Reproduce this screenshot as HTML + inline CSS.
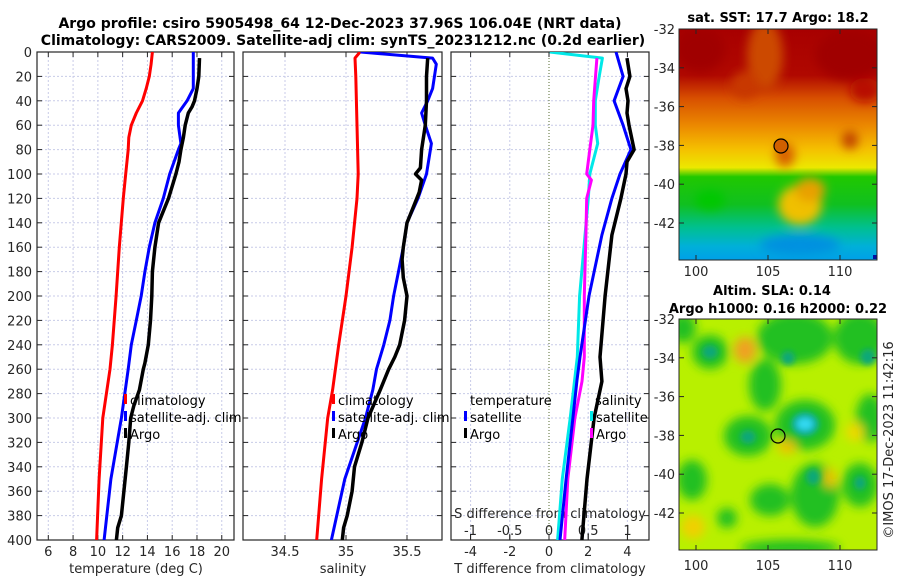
<!DOCTYPE html>
<html><head><meta charset="utf-8">
<style>
html,body{margin:0;padding:0;background:#fff;}
svg{display:block;font-family:"DejaVu Sans","Liberation Sans",sans-serif;}
.tk{font-size:13px;fill:#262626;}
.tt{font-size:13px;font-weight:bold;fill:#000;}
.t1{font-size:14px;font-weight:bold;fill:#000;}
.lg{font-size:13px;fill:#000;}
</style></head>
<body>
<svg id="chart" width="900" height="580" viewBox="0 0 900 580">
<defs>
<clipPath id="cp1"><rect x="37" y="52" width="197" height="488"/></clipPath>
<clipPath id="cp2"><rect x="243" y="52" width="199" height="488"/></clipPath>
<clipPath id="cp3"><rect x="451" y="52" width="198" height="488"/></clipPath>
<clipPath id="cpm1"><rect x="679" y="29" width="198" height="231"/></clipPath>
<clipPath id="cpm2"><rect x="679" y="319" width="198" height="231"/></clipPath>
<filter id="bl" x="-50%" y="-50%" width="200%" height="200%"><feGaussianBlur stdDeviation="5"/></filter>
<filter id="bl2" x="-50%" y="-50%" width="200%" height="200%"><feGaussianBlur stdDeviation="3"/></filter>
<linearGradient id="sstg" x1="0" y1="0" x2="0" y2="1">
<stop offset="0" stop-color="#a80000"/><stop offset="0.2" stop-color="#b00800"/>
<stop offset="0.3" stop-color="#d85000"/><stop offset="0.42" stop-color="#ec8a00"/>
<stop offset="0.52" stop-color="#f5c000"/><stop offset="0.6" stop-color="#ece800"/>
<stop offset="0.64" stop-color="#20c800"/><stop offset="0.76" stop-color="#10c020"/>
<stop offset="0.86" stop-color="#00c090"/><stop offset="0.94" stop-color="#00b0d8"/>
<stop offset="1" stop-color="#00a0e8"/>
</linearGradient>
</defs>

<g>
<text class="t1" x="340" y="28" text-anchor="middle">Argo profile: csiro 5905498_64 12-Dec-2023 37.96S 106.04E (NRT data)</text>
<text class="t1" x="343" y="45" text-anchor="middle">Climatology: CARS2009. Satellite-adj clim: synTS_20231212.nc (0.2d earlier)</text>
</g>

<g id="panels"></g>

<!-- SST map -->
<g>
<g clip-path="url(#cpm1)">
<rect x="679" y="29" width="198" height="231" fill="url(#sstg)"/>
<g filter="url(#bl)">
<ellipse cx="765" cy="55" rx="18" ry="35" fill="#cc4800"/>
<ellipse cx="745" cy="85" rx="14" ry="14" fill="#c83800"/>
<ellipse cx="700" cy="50" rx="25" ry="22" fill="#a00000"/>
<ellipse cx="850" cy="55" rx="35" ry="25" fill="#a00000"/>
<ellipse cx="865" cy="90" rx="15" ry="12" fill="#b81000"/>
<ellipse cx="800" cy="205" rx="22" ry="20" fill="#f0c000"/>
<ellipse cx="810" cy="190" rx="15" ry="12" fill="#e8a000"/>
<ellipse cx="850" cy="140" rx="8" ry="9" fill="#c04000"/>
<ellipse cx="785" cy="155" rx="10" ry="12" fill="#d86000"/>
<ellipse cx="710" cy="200" rx="15" ry="10" fill="#00c800"/>
<ellipse cx="800" cy="245" rx="40" ry="10" fill="#0090e0"/>
</g>
<rect x="873" y="255" width="4" height="4" fill="#0010a0"/>
</g>
<rect x="679" y="29" width="198" height="231" fill="none" stroke="#262626" stroke-width="1"/>
<circle cx="781" cy="146" r="7" fill="#d06000" stroke="#000" stroke-width="1.2"/>
<text class="tt" x="778" y="22" text-anchor="middle">sat. SST: 17.7 Argo: 18.2</text>
</g>

<!-- SLA map -->
<g>
<g clip-path="url(#cpm2)">
<rect x="679" y="319" width="198" height="231" fill="#b8f000"/>
<g filter="url(#bl)">
<ellipse cx="683" cy="328" rx="13" ry="15" fill="#20c020"/>
<ellipse cx="710" cy="352" rx="18" ry="17" fill="#20c020"/>
<ellipse cx="795" cy="338" rx="38" ry="26" fill="#20c020"/>
<ellipse cx="765" cy="385" rx="16" ry="26" fill="#20c020"/>
<ellipse cx="860" cy="338" rx="26" ry="26" fill="#20c020"/>
<ellipse cx="805" cy="425" rx="30" ry="25" fill="#20c020"/>
<ellipse cx="748" cy="436" rx="24" ry="20" fill="#20c020"/>
<ellipse cx="870" cy="418" rx="14" ry="24" fill="#20c020"/>
<ellipse cx="692" cy="480" rx="15" ry="20" fill="#20c020"/>
<ellipse cx="770" cy="500" rx="20" ry="16" fill="#20c020"/>
<ellipse cx="815" cy="495" rx="24" ry="32" fill="#20c020"/>
<ellipse cx="860" cy="485" rx="18" ry="22" fill="#20c020"/>
<ellipse cx="727" cy="518" rx="10" ry="10" fill="#20c020"/>
<ellipse cx="790" cy="548" rx="50" ry="8" fill="#20c020"/>
<ellipse cx="745" cy="350" rx="11" ry="13" fill="#f0a020"/>
<ellipse cx="693" cy="527" rx="12" ry="12" fill="#f0d000"/>
<ellipse cx="830" cy="478" rx="6" ry="10" fill="#f0c000"/>
<ellipse cx="787" cy="447" rx="9" ry="7" fill="#f0c000"/>
<ellipse cx="855" cy="432" rx="9" ry="9" fill="#f0d800"/>
</g>
<g filter="url(#bl2)">
<ellipse cx="710" cy="352" rx="8" ry="7" fill="#10a878"/>
<ellipse cx="788" cy="358" rx="7" ry="7" fill="#10a878"/>
<ellipse cx="868" cy="357" rx="8" ry="8" fill="#10a878"/>
<ellipse cx="748" cy="437" rx="8" ry="7" fill="#10a878"/>
<ellipse cx="813" cy="477" rx="7" ry="8" fill="#10a878"/>
<ellipse cx="860" cy="483" rx="6" ry="7" fill="#10a878"/>
<ellipse cx="805" cy="424" rx="14" ry="12" fill="#10b0a0"/>
<ellipse cx="805" cy="424" rx="8" ry="6" fill="#30d8f0"/>
</g>
</g>
<rect x="679" y="319" width="198" height="231" fill="none" stroke="#262626" stroke-width="1"/>
<circle cx="778" cy="436" r="7" fill="none" stroke="#000" stroke-width="1.2"/>
<text class="tt" x="772" y="295" text-anchor="middle">Altim. SLA: 0.14</text>
<text class="tt" x="778" y="313" text-anchor="middle">Argo h1000: 0.16 h2000: 0.22</text>
</g>

<g id="mapaxes"></g>

<text class="tk" x="0" y="0" transform="translate(893,440) rotate(-90)" text-anchor="middle">©IMOS 17-Dec-2023 11:42:16</text>
</svg>

<script>
// ---- data ----
const depthTicks = [0,20,40,60,80,100,120,140,160,180,200,220,240,260,280,300,320,340,360,380,400];
const tempTicks = [6,8,10,12,14,16,18,20];
const salTicks = [34.5,35,35.5];
const tDiffTicks = [-4,-2,0,2,4];
const sDiffTicks = [-1,-0.5,0,0.5,1];

const climTDepth = [0,10,20,30,40,50,60,70,80,100,120,160,200,240,260,300,350,400];
const climTValue = [14.4,14.3,14.15,13.9,13.6,13.1,12.7,12.5,12.45,12.25,12.05,11.73,11.47,11.17,10.98,10.4,10.1,9.9];
const satTDepth = [0,30,40,50,60,75,80,100,120,140,160,180,200,220,240,260,300,350,400];
const satTValue = [17.7,17.7,17.2,16.5,16.5,16.7,16.5,15.8,15.28,14.6,14.15,13.8,13.5,13.1,12.7,12.45,11.9,11.05,10.5];
const argoTDepth = [5,20,30,40,45,50,60,70,80,90,100,110,120,140,160,180,200,220,240,255,260,277,290,300,320,340,360,380,390,400];
const argoTValue = [18.2,18.15,18.0,17.8,17.6,17.3,17.05,16.9,16.7,16.55,16.3,16.0,15.7,14.9,14.6,14.4,14.35,14.25,14.07,13.8,13.67,13.35,12.9,12.65,12.5,12.3,12.1,11.9,11.6,11.5];

const climSDepth = [0,5,20,60,100,120,160,200,240,277,300,350,400];
const climSValue = [35.115,35.074,35.08,35.09,35.10,35.09,35.05,35.0,34.94,34.89,34.85,34.80,34.76];
const satSDepth = [0,5,10,30,40,50,60,75,100,120,140,160,180,200,220,240,260,277,300,350,400];
const satSValue = [35.12,35.71,35.74,35.71,35.67,35.62,35.65,35.70,35.66,35.59,35.50,35.47,35.43,35.39,35.36,35.31,35.25,35.22,35.16,34.99,34.88];
const argoSDepth = [5,20,40,60,80,95,100,105,115,120,130,140,160,170,185,200,220,240,250,260,277,300,320,340,360,380,390,400];
const argoSValue = [35.67,35.66,35.66,35.65,35.62,35.61,35.57,35.62,35.60,35.58,35.54,35.50,35.47,35.46,35.47,35.50,35.48,35.44,35.40,35.35,35.28,35.18,35.13,35.07,35.05,35.01,34.98,34.97];

const satTdDepth = [0,20,40,60,80,100,120,150,200,250,269,300,350,400];
const satTdValue = [3.42,3.78,3.32,3.78,4.18,3.62,3.21,2.70,2.04,1.58,1.43,1.22,0.87,0.56];
const argoTdDepth = [5,20,30,40,50,60,80,90,100,120,150,200,250,270,300,350,400];
const argoTdValue = [3.98,4.13,3.93,4.03,3.98,4.08,4.34,3.98,3.93,3.67,3.21,2.86,2.60,2.70,2.30,1.94,1.68];
const satSdDepth = [0,5,20,40,60,75,100,120,200,250,300,350,400];
const satSdValue = [0.01,0.68,0.64,0.59,0.59,0.62,0.52,0.50,0.39,0.36,0.27,0.17,0.11];
const argoSdDepth = [5,40,60,80,100,105,120,150,200,250,270,300,350,400];
const argoSdValue = [0.61,0.57,0.56,0.52,0.48,0.54,0.48,0.47,0.45,0.45,0.42,0.33,0.24,0.20];

const mapLatTicks = [-32,-34,-36,-38,-40,-42];
const mapLonTicks = [100,105,110];

// ---- scales ----
const yD = d => 52 + d*1.22;
const xT = t => 48.3 + (t-6)*12.39;
const xS = s => 346 + (s-35)*122;
const xTd = t => 549 + t*19.6;
const xSd = s => 549 + s*78.5;
const yLat1 = l => 29 + (-32 - l)*19.4;
const yLat2 = l => 319 + (-32 - l)*19.4;
const xLon = l => 696 + (l-100)*14.4;

const NS = 'http://www.w3.org/2000/svg';
const svg = document.getElementById('chart');
const panelsG = document.getElementById('panels');
function mk(tag, attrs, parent){ const e=document.createElementNS(NS,tag); for(const k in attrs) e.setAttribute(k,attrs[k]); (parent||panelsG).appendChild(e); return e; }

const panels = [
 {x0:37,x1:234,clip:'cp1',name:'temperature-panel'},
 {x0:243,x1:442,clip:'cp2',name:'salinity-panel'},
 {x0:451,x1:649,clip:'cp3',name:'difference-panel'}
];

function line(depths, vals, xf, color, clip, name, w){
  const pts = depths.map((d,i)=> xf(vals[i]).toFixed(1)+','+yD(d).toFixed(1)).join(' ');
  const p = mk('polyline',{points:pts,fill:'none',stroke:color,'stroke-width':w||3,'stroke-linejoin':'round','clip-path':'url(#'+clip+')'});
  
  
}

panels.forEach((p,pi)=>{
  const g = mk('g',{});
  
  
  depthTicks.forEach(d=>{
    mk('line',{x1:p.x0,x2:p.x1,y1:yD(d),y2:yD(d),stroke:'#c8cbe8','stroke-width':1,'stroke-dasharray':'2,2'},g);
  });
  let vt, xf;
  if(pi===0){vt=tempTicks;xf=xT;} else if(pi===1){vt=salTicks;xf=xS;} else {vt=tDiffTicks;xf=xTd;}
  vt.forEach(v=>{
    if(pi===2 && v===0) return;
    mk('line',{x1:xf(v),x2:xf(v),y1:52,y2:540,stroke:'#c8cbe8','stroke-width':1,'stroke-dasharray':'2,2'},g);
  });
  if(pi===2){
    mk('line',{x1:xTd(0),x2:xTd(0),y1:52,y2:540,stroke:'#556b2f','stroke-width':1,'stroke-dasharray':'1,2'},g);
  }
  mk('rect',{x:p.x0,y:52,width:p.x1-p.x0,height:488,fill:'none',stroke:'#262626','stroke-width':1.2},g);
  depthTicks.forEach(d=>{
    mk('line',{x1:p.x0,x2:p.x0+5,y1:yD(d),y2:yD(d),stroke:'#262626'},g);
    mk('line',{x1:p.x1-5,x2:p.x1,y1:yD(d),y2:yD(d),stroke:'#262626'},g);
  });
  vt.forEach(v=>{
    mk('line',{x1:xf(v),x2:xf(v),y1:540,y2:535,stroke:'#262626'},g);
    mk('line',{x1:xf(v),x2:xf(v),y1:52,y2:57,stroke:'#262626'},g);
    const t = mk('text',{x:xf(v),y:556,'text-anchor':'middle','class':'tk'},g);
    t.textContent = (v<0?'-':'')+Math.abs(v);
    
    
  });
});

depthTicks.forEach(d=>{
  const t = mk('text',{x:32,y:yD(d)+5,'text-anchor':'end','class':'tk'});
  t.textContent = d;
  
  
});

sDiffTicks.forEach(v=>{
  mk('line',{x1:xSd(v),x2:xSd(v),y1:540,y2:534,stroke:'#262626'});
  const t = mk('text',{x:xSd(v),y:535,'text-anchor':'middle','class':'tk'});
  t.textContent = (v<0?'-':'')+Math.abs(v);
  
  
});
let st = mk('text',{x:550,y:518,'text-anchor':'middle','class':'tk'});
st.textContent = 'S difference from climatology';



[[136,'temperature (deg C)','temperature-axis-title'],[343,'salinity','salinity-axis-title'],[550,'T difference from climatology','t-diff-axis-title']].forEach(a=>{
  const t = mk('text',{x:a[0],y:573,'text-anchor':'middle','class':'tk'});
  t.textContent = a[1];
  
  
});

line(climTDepth, climTValue, xT, '#ff0000', 'cp1', 'temp-climatology-line');
line(satTDepth, satTValue, xT, '#0000ff', 'cp1', 'temp-satellite-line');
line(argoTDepth, argoTValue, xT, '#000000', 'cp1', 'temp-argo-line', 3.5);
line(climSDepth, climSValue, xS, '#ff0000', 'cp2', 'sal-climatology-line');
line(satSDepth, satSValue, xS, '#0000ff', 'cp2', 'sal-satellite-line');
line(argoSDepth, argoSValue, xS, '#000000', 'cp2', 'sal-argo-line', 3.5);
line(satSdDepth, satSdValue, xSd, '#00e8e8', 'cp3', 'sal-diff-satellite-line');
line(argoSdDepth, argoSdValue, xSd, '#ff00ff', 'cp3', 'sal-diff-argo-line');
line(satTdDepth, satTdValue, xTd, '#0000ff', 'cp3', 'temp-diff-satellite-line');
line(argoTdDepth, argoTdValue, xTd, '#000000', 'cp3', 'temp-diff-argo-line', 3.5);

function legEntry(x, y, color, label, name){
  const g = mk('g',{});
  
  
  if(color) mk('rect',{x:x-6,y:y-11,width:3,height:10,fill:color},g);
  const t = mk('text',{x:x,y:y,'class':'lg'},g);
  t.textContent = label;
}
legEntry(130,405,'#ff0000','climatology','legend-climatology-temp');
legEntry(130,422,'#0000ff','satellite-adj. clim','legend-satellite-temp');
legEntry(130,439,'#000000','Argo','legend-argo-temp');
legEntry(338,405,'#ff0000','climatology','legend-climatology-sal');
legEntry(338,422,'#0000ff','satellite-adj. clim','legend-satellite-sal');
legEntry(338,439,'#000000','Argo','legend-argo-sal');
legEntry(470,405,null,'temperature','legend-temperature-header');
legEntry(470,422,'#0000ff','satellite','legend-satellite-tdiff');
legEntry(470,439,'#000000','Argo','legend-argo-tdiff');
legEntry(595,405,null,'salinity','legend-salinity-header');
legEntry(596,422,'#00e8e8','satellite','legend-satellite-sdiff');
legEntry(596,439,'#ff00ff','Argo','legend-argo-sdiff');

const ma = document.getElementById('mapaxes');
[[yLat1,29,260,272],[yLat2,319,550,566]].forEach((m,mi)=>{
  mapLatTicks.forEach(l=>{
    const y = m[0](l);
    mk('line',{x1:679,x2:684,y1:y,y2:y,stroke:'#262626'},ma);
    mk('line',{x1:872,x2:877,y1:y,y2:y,stroke:'#262626'},ma);
    const t = mk('text',{x:675,y:y+5,'text-anchor':'end','class':'tk'},ma);
    t.textContent = l;
    
    
  });
  mapLonTicks.forEach(l=>{
    const x = xLon(l);
    mk('line',{x1:x,x2:x,y1:m[2],y2:m[2]-5,stroke:'#262626'},ma);
    mk('line',{x1:x,x2:x,y1:m[1],y2:m[1]+5,stroke:'#262626'},ma);
    const t = mk('text',{x:x,y:m[3]+4,'text-anchor':'middle','class':'tk'},ma);
    t.textContent = l;
    
    
  });
});
</script>
</body></html>
